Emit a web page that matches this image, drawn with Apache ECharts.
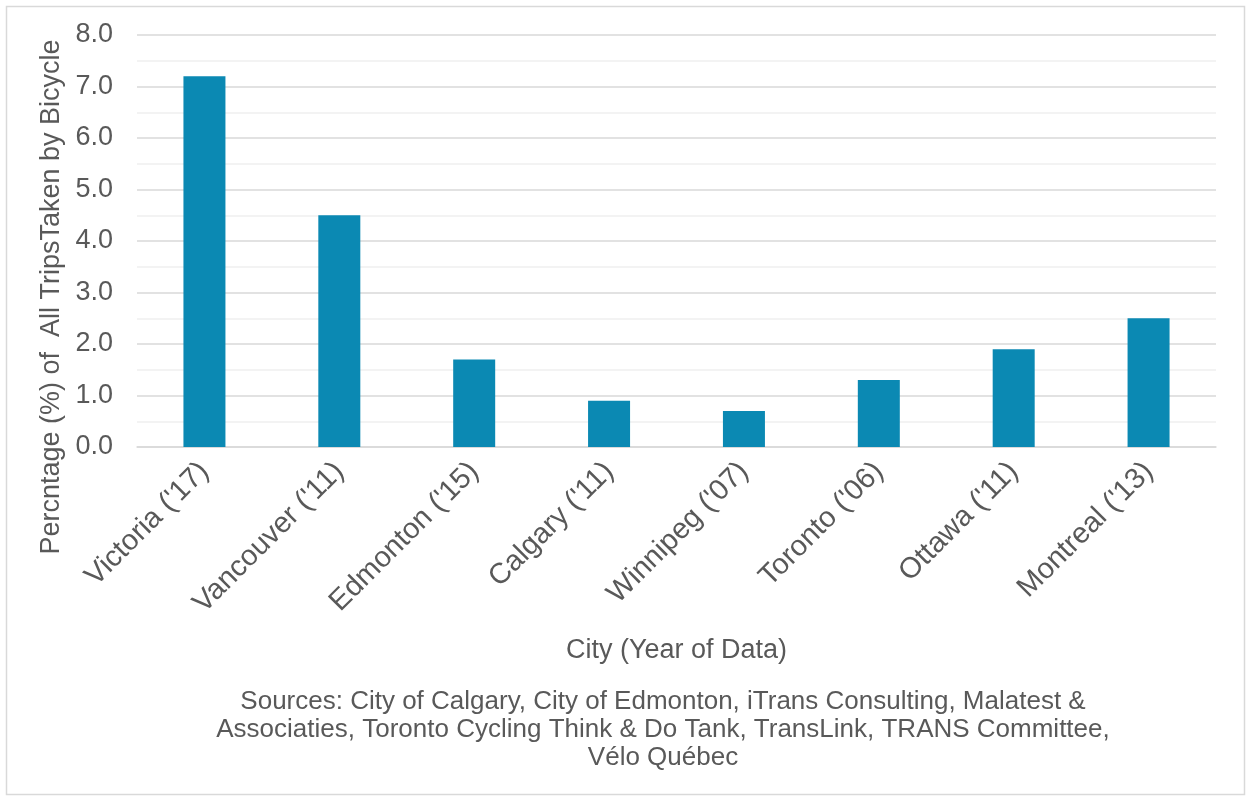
<!DOCTYPE html>
<html><head><meta charset="utf-8">
<script src="https://cdn.jsdelivr.net/npm/echarts@6/dist/echarts.min.js"></script>
<style>html,body{margin:0;padding:0;background:#fff}#c{width:1251px;height:801px}</style>
</head><body><div id="c"></div>
<script>
const categories = ["Victoria ('17)", "Vancouver ('11)", "Edmonton ('15)", "Calgary ('11)", "Winnipeg ('07)", "Toronto ('06)", "Ottawa ('11)", "Montreal ('13)"];
const values = [7.2, 4.5, 1.7, 0.9, 0.7, 1.3, 1.9, 2.5];
const yTitle = "Percntage (%) of  All TripsTaken by Bicycle";
const xTitle = "City (Year of Data)";
const sources = "Sources: City of Calgary, City of Edmonton, iTrans Consulting, Malatest &\nAssociaties, Toronto Cycling Think & Do Tank, TransLink, TRANS Committee,\nVélo Québec";

const font = "'Liberation Sans', Arial, sans-serif";
const chart = echarts.init(document.getElementById('c'));
chart.setOption({
  backgroundColor: '#fff',
  animation: false,
  grid: {left: 137, right: 35, top: 35, bottom: 354, containLabel: false},
  xAxis: {
    type: 'category', data: categories,
    axisLine: {show: true, lineStyle: {color: '#d9d9d9', width: 1.5}},
    axisTick: {show: false},
    axisLabel: {rotate: 45, color: '#595959', fontSize: 29, fontFamily: font, margin: 20, interval: 0},
    name: xTitle, nameLocation: 'middle', nameGap: 190,
    nameTextStyle: {color: '#595959', fontSize: 27, fontFamily: font}
  },
  yAxis: {
    type: 'value', min: 0, max: 8, interval: 1,
    axisLine: {show: false}, axisTick: {show: false},
    axisLabel: {color: '#595959', fontSize: 27, fontFamily: font, margin: 24, formatter: v => v.toFixed(1)},
    splitLine: {lineStyle: {color: '#d9d9d9', width: 1.5}},
    minorTick: {show: false, splitNumber: 2},
    minorSplitLine: {show: true, lineStyle: {color: '#efefef', width: 1.5}}
  },
  series: [{
    type: 'bar', data: values, barWidth: 42,
    itemStyle: {color: '#0b89b3'}
  }],
  graphic: [
    {type: 'rect', shape: {x: 6.5, y: 6.5, width: 1238, height: 788}, style: {fill: 'none', stroke: '#d9d9d9', lineWidth: 1.5}, silent: true},
    {type: 'text', x: 52, y: 297, rotation: Math.PI / 2,
     style: {text: yTitle, fill: '#595959', fontSize: 27, fontFamily: font, align: 'center', verticalAlign: 'middle'}},
    {type: 'text', x: 663, y: 688,
     style: {text: sources, fill: '#595959', fontSize: 26, fontFamily: font, align: 'center', verticalAlign: 'top', lineHeight: 28}}
  ]
});
</script></body></html>
